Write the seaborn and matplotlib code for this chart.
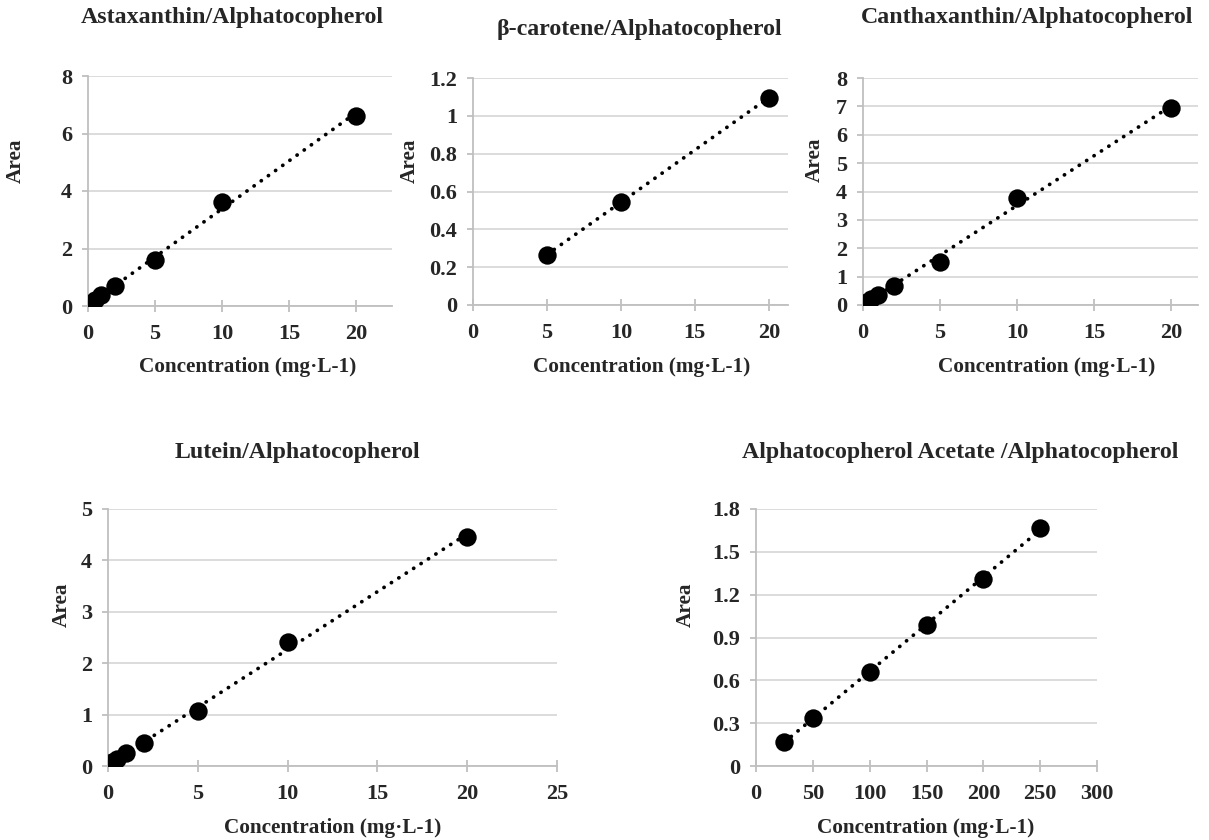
import numpy as np
import pandas as pd
import matplotlib
matplotlib.use('Agg')
import matplotlib.pyplot as plt
import seaborn as sns

# calibration data
conc_low = [0.1, 0.25, 0.5, 1, 2, 5, 10, 20]
asta_area = [0.05, 0.1, 0.2, 0.38, 0.68, 1.6, 3.62, 6.62]
bcar_conc = [5, 10, 20]
bcar_area = [0.265, 0.545, 1.095]
cantha_area = [0.06, 0.12, 0.2, 0.35, 0.66, 1.51, 3.78, 6.94]
lutein_area = [0.04, 0.07, 0.13, 0.25, 0.44, 1.07, 2.42, 4.46]
acet_conc = [25, 50, 100, 150, 200, 250]
acet_area = [0.171, 0.336, 0.66, 0.987, 1.308, 1.668]

titles = ['Astaxanthin/Alphatocopherol', 'β-carotene/Alphatocopherol',
          'Canthaxanthin/Alphatocopherol', 'Lutein/Alphatocopherol',
          'Alphatocopherol Acetate /Alphatocopherol']
xlabel = 'Concentration (mg·L-1)'

sns.set_style('white')
plt.rcParams['font.family'] = ['Liberation Serif', 'DejaVu Serif']
plt.rcParams['font.weight'] = 'bold'

fig = plt.figure(figsize=(12.09, 8.4), dpi=100)
W, H = 1209, 840

# pixel boxes: left, top, right, bottom
boxes = [(88, 76, 392, 306), (473, 78, 788, 305), (863, 78, 1198, 305),
         (108, 509, 557, 766), (756, 509, 1097, 766)]
panels = [
    (conc_low, asta_area, (0, 22.7), [0, 5, 10, 15, 20], [0, 2, 4, 6, 8]),
    (bcar_conc, bcar_area, (0, 21.3), [0, 5, 10, 15, 20], [0, 0.2, 0.4, 0.6, 0.8, 1, 1.2]),
    (conc_low, cantha_area, (0, 21.75), [0, 5, 10, 15, 20], [0, 1, 2, 3, 4, 5, 6, 7, 8]),
    (conc_low, lutein_area, (0, 25), [0, 5, 10, 15, 20, 25], [0, 1, 2, 3, 4, 5]),
    (acet_conc, acet_area, (0, 300), [0, 50, 100, 150, 200, 250, 300], [0, 0.3, 0.6, 0.9, 1.2, 1.5, 1.8]),
]
# centres in pixels: title, ylabel, xlabel
title_px = [(232, 17), (639, 29), (1027, 17), (297, 453), (960, 453)]
ylab_px = [(16, 161), (410, 161), (815, 160), (62, 605), (686, 605)]
xlab_px = [(248, 367), (642, 367), (1047, 367), (333, 828), (926, 828)]

grid_c = '#d9d9d9'
axis_c = '#bfbfbf'


def to_axes(px, box):
    l, t, r, b = box
    return (px[0] - l) / (r - l), (b - px[1]) / (b - t)


for i, (xs, ys, xlim, xt, yt) in enumerate(panels):
    l, t, r, b = boxes[i]
    ax = fig.add_axes([l / W, 1 - b / H, (r - l) / W, (b - t) / H])
    df = pd.DataFrame({'conc': xs, 'area': ys})
    sns.regplot(data=df, x='conc', y='area', ax=ax, ci=None, truncate=True,
                scatter_kws={'s': 175, 'color': 'black', 'alpha': 1, 'linewidths': 0, 'zorder': 3},
                line_kws={'color': 'black', 'linestyle': (0, (0.05, 2.3)), 'linewidth': 2.7,
                          'dash_capstyle': 'round', 'zorder': 2})
    ax.set_xlim(xlim)
    ax.set_ylim(yt[0], yt[-1])
    ax.set_xticks(xt)
    ax.set_xticklabels([f'{v:g}' for v in xt])
    ax.set_yticks(yt)
    ax.set_yticklabels([f'{v:g}' for v in yt])
    ax.grid(axis='y', color=grid_c, linewidth=1.3)
    ax.set_axisbelow(True)
    for s in ['top', 'right']:
        ax.spines[s].set_visible(False)
    for s in ['left', 'bottom']:
        ax.spines[s].set_color(axis_c)
        ax.spines[s].set_linewidth(1.3)
    ax.tick_params(axis='y', length=4.5, width=1.3, color=axis_c, pad=7,
                   labelsize=16, left=True)
    ax.tick_params(axis='x', direction='inout', length=8, width=1.3, color=axis_c,
                   pad=9, labelsize=16, bottom=True)
    tx, ty = to_axes(title_px[i], boxes[i])
    ax.set_title(titles[i], x=tx, y=ty, va='center', pad=0,
                 fontsize=17.2, fontweight='bold')
    ax.set_xlabel(xlabel, fontsize=15.3, fontweight='bold', va='center')
    ax.xaxis.set_label_coords(*to_axes(xlab_px[i], boxes[i]))
    ax.set_ylabel('Area', fontsize=15.3, fontweight='bold', va='center')
    ax.yaxis.set_label_coords(*to_axes(ylab_px[i], boxes[i]))

fig.savefig('out.png', dpi=100)
